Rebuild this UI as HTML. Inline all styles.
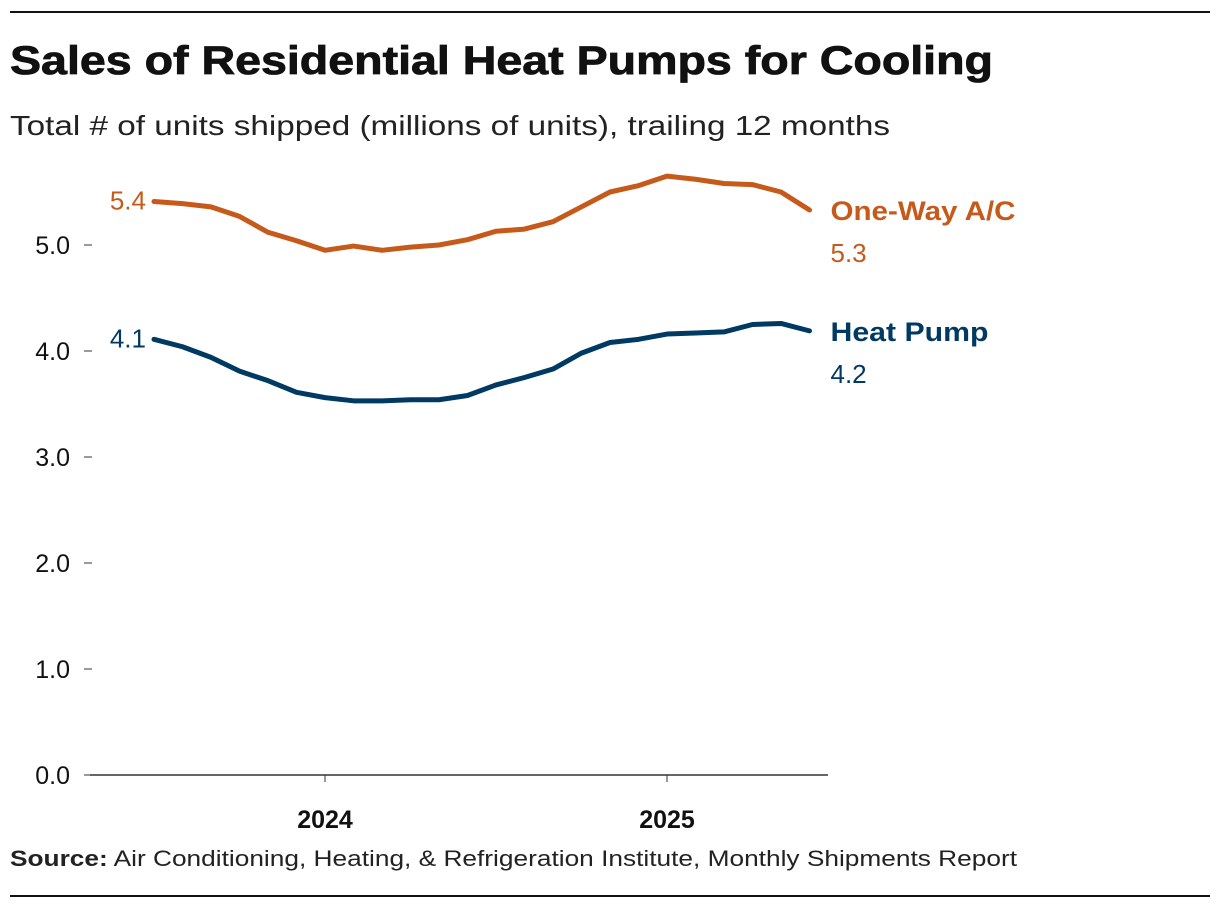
<!DOCTYPE html>
<html><head><meta charset="utf-8"><style>
body{margin:0;background:#fff;width:1220px;height:908px;overflow:hidden;font-family:"Liberation Sans",sans-serif}
</style></head><body>
<svg width="1220" height="908">
<line x1="10" y1="12" x2="1210" y2="12" stroke="#111" stroke-width="2"/>
<line x1="10" y1="896" x2="1210" y2="896" stroke="#111" stroke-width="2"/>
<text x="10" y="74" font-size="40" font-weight="bold" fill="#111" stroke="#111" stroke-width="0.8" textLength="983" lengthAdjust="spacingAndGlyphs">Sales of Residential Heat Pumps for Cooling</text>
<text x="10" y="135" font-size="28" fill="#222" textLength="880" lengthAdjust="spacingAndGlyphs">Total # of units shipped (millions of units), trailing 12 months</text>
<text x="10" y="866" font-size="22" fill="#222" textLength="1007" lengthAdjust="spacingAndGlyphs"><tspan font-weight="bold">Source:</tspan> Air Conditioning, Heating, &amp; Refrigeration Institute, Monthly Shipments Report</text>
<g id="axes"></g>
<g id="marks"></g>
</svg>
<script>
const months = ["2023-07","2023-08","2023-09","2023-10","2023-11","2023-12","2024-01","2024-02","2024-03","2024-04","2024-05","2024-06","2024-07","2024-08","2024-09","2024-10","2024-11","2024-12","2025-01","2025-02","2025-03","2025-04","2025-05","2025-06"];
const oneWayAC = [5.41,5.39,5.36,5.27,5.12,5.04,4.95,4.99,4.95,4.98,5.00,5.05,5.13,5.15,5.22,5.36,5.50,5.56,5.65,5.62,5.58,5.57,5.50,5.33];
const heatPump = [4.11,4.04,3.94,3.81,3.72,3.61,3.56,3.53,3.53,3.54,3.54,3.58,3.68,3.75,3.83,3.98,4.08,4.11,4.16,4.17,4.18,4.25,4.26,4.19];
const yTicks = [0,1,2,3,4,5];
const yTickLabels = ["0.0","1.0","2.0","3.0","4.0","5.0"];
const xTickYears = [2024,2025];

const NS="http://www.w3.org/2000/svg";
function monthIndex(s){const [y,m]=s.split("-").map(Number);return y*12+(m-1);}
function xScale(idx){return 325+(idx-monthIndex("2024-01"))*28.5;}
function yScale(v){return 775-v*106;}
function el(tag,attrs,parent,text){const e=document.createElementNS(NS,tag);for(const k in attrs)e.setAttribute(k,attrs[k]);if(text!==undefined)e.textContent=text;parent.appendChild(e);return e;}
const axes=document.getElementById("axes"), marks=document.getElementById("marks");

yTicks.forEach((t,i)=>{
  const y=yScale(t);
  const tk=el("line",{x1:84,x2:92,y1:y,y2:y,stroke:"#333","stroke-width":1},axes);
  
  
  const lb=el("text",{x:70,y:y+9,"font-size":25,"text-anchor":"end",fill:"#111"},axes,yTickLabels[i]);
  
  
});
const ax=el("line",{x1:90,x2:828,y1:yScale(0),y2:yScale(0),stroke:"#333","stroke-width":1.5},axes);


xTickYears.forEach(yr=>{
  const x=xScale(yr*12);
  const tk=el("line",{x1:x,x2:x,y1:775,y2:782,stroke:"#333","stroke-width":1},axes);
  
  
  const lb=el("text",{x:x,y:828,"font-size":25,"font-weight":"bold","text-anchor":"middle",fill:"#111"},axes,String(yr));
  
  
});

function series(vals,color,name,label,lw){
  const pts=vals.map((v,i)=>xScale(monthIndex(months[i]))+","+yScale(v)).join(" ");
  const pl=el("polyline",{points:pts,fill:"none",stroke:color,"stroke-width":5,"stroke-linejoin":"round","stroke-linecap":"round"},marks);
  
  
  const x0=xScale(monthIndex(months[0])), y0=yScale(vals[0]);
  const s=el("text",{x:x0-8,y:y0+8,"font-size":26,"text-anchor":"end",fill:color},marks,vals[0].toFixed(1));
  
  
  const n=vals.length-1, x1=xScale(monthIndex(months[n]))+21, y1=yScale(vals[n]);
  const l=el("text",{x:x1,y:y1+10,"font-size":27,"font-weight":"bold",fill:color,textLength:lw,lengthAdjust:"spacingAndGlyphs"},marks,label);
  
  
  const e=el("text",{x:x1,y:y1+52,"font-size":26,fill:color},marks,vals[n].toFixed(1));
  
  
}
series(oneWayAC,"#c55a1a","one-way-ac","One-Way A/C",185);
series(heatPump,"#003a63","heat-pump","Heat Pump",158);
</script>
</body></html>
